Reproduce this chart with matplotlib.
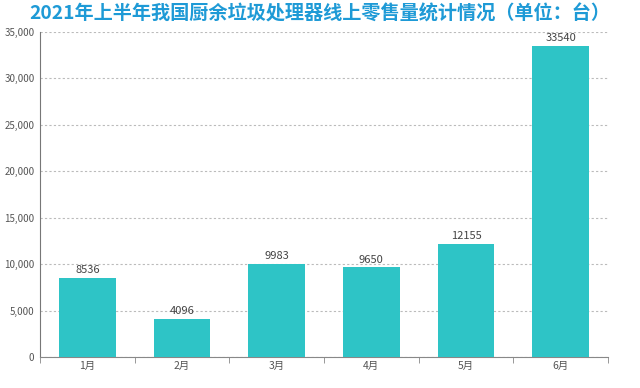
import matplotlib
matplotlib.use("Agg")
import matplotlib.pyplot as plt
from matplotlib.ticker import FuncFormatter, MultipleLocator

plt.rcParams['font.family'] = ['Noto Sans CJK SC', 'DejaVu Sans']

title = "2021年上半年我国厨余垃圾处理器线上零售量统计情况（单位：台）"
months = ["1月", "2月", "3月", "4月", "5月", "6月"]
sales = [8536, 4096, 9983, 9650, 12155, 33540]

fig = plt.figure(figsize=(6.4, 3.88), dpi=100)
ax = fig.add_axes([0.0625, 0.080, 0.8875, 0.8375])

x = list(range(len(months)))
bars = ax.bar(x, sales, width=0.6, color="#2ec4c6", zorder=3)
for xi, v in zip(x, sales):
    ax.text(xi, v + 300, str(v), ha="center", va="bottom", fontsize=8, color="#444444", zorder=4)

ax.set_xlim(-0.5, len(months) - 0.5)
ax.set_ylim(0, 35000)
ax.yaxis.set_major_locator(MultipleLocator(5000))
ax.yaxis.set_major_formatter(FuncFormatter(lambda v, p: f"{int(v):,}"))
ax.set_xticks(x)
ax.set_xticklabels(months)
ax.set_xticks([i - 0.5 for i in range(len(months) + 1)], minor=True)
ax.tick_params(axis="x", which="major", length=0, labelsize=7.5, colors="#555555", pad=3)
ax.tick_params(axis="x", which="minor", length=4, color="#888888", direction="out")
ax.tick_params(axis="y", length=0, labelsize=7, colors="#555555", pad=4)

ax.grid(axis="y", linestyle=(0, (2, 2)), color="#bbbbbb", linewidth=0.8, zorder=0)
for s in ["top", "right"]:
    ax.spines[s].set_visible(False)
ax.spines["left"].set_color("#777777")
ax.spines["bottom"].set_color("#888888")
ax.spines["left"].set_linewidth(0.8)
ax.spines["bottom"].set_linewidth(0.8)

fig.text(0.5, 0.965, title, ha="center", va="center", fontsize=13.8, fontweight="bold", color="#1e9ad6")

fig.savefig("out.png", dpi=100)
